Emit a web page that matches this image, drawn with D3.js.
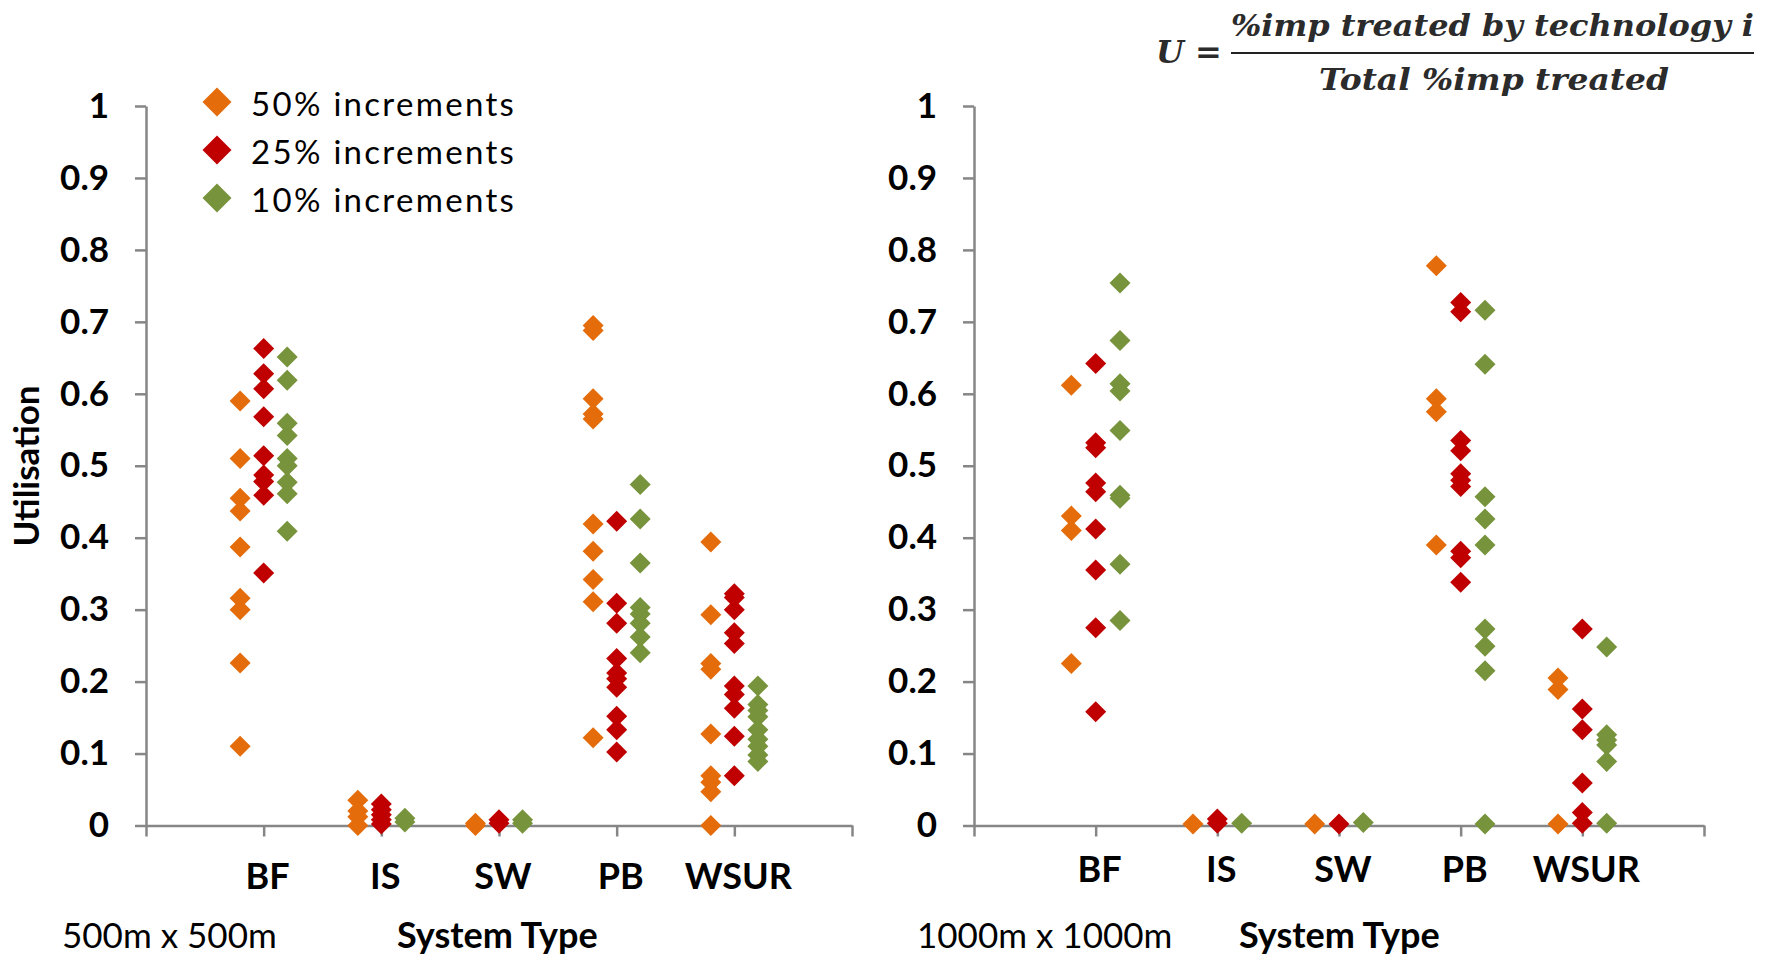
<!DOCTYPE html>
<html>
<head>
<meta charset="utf-8">
<script src="https://d3js.org/d3.v7.min.js"></script>
<style>
  body { margin: 0; background: #fff; }
  text { font-family: Lato, 'Open Sans', sans-serif; }
  text.formula { font-family: 'DejaVu Serif', 'Liberation Serif', serif; font-style: italic; font-weight: 700; fill: #2b2b2b; }
  .axis path, .axis line { stroke: #868686; stroke-width: 2.5; }
  .ytick { font-size: 35px; font-weight: 700; fill: #000; }
  .cat { font-size: 36px; font-weight: 700; fill: #000; }
</style>
</head>
<body>
<div id="chart"></div>
<script>
// categories and series
var categories = ["BF", "IS", "SW", "PB", "WSUR"];
var seriesNames = ["50% increments", "25% increments", "10% increments"];
var seriesColors = ["#E46C0A", "#C00000", "#77933C"];
var yTicks = [0, 0.1, 0.2, 0.3, 0.4, 0.5, 0.6, 0.7, 0.8, 0.9, 1];
var xTicks = [0, 1, 2, 3, 4, 5, 6];

// 500m x 500m grid, one array per category
var g500_50 = [
  [0.59, 0.51, 0.455, 0.437, 0.387, 0.316, 0.30, 0.226, 0.11],
  [0.035, 0.02, 0.012, 0.0],
  [0.003, 0.0],
  [0.695, 0.688, 0.593, 0.572, 0.565, 0.419, 0.381, 0.342, 0.311, 0.122],
  [0.394, 0.293, 0.225, 0.217, 0.127, 0.069, 0.06, 0.047, 0.0]
];
var g500_25 = [
  [0.663, 0.628, 0.607, 0.568, 0.514, 0.487, 0.478, 0.459, 0.351],
  [0.03, 0.022, 0.015, 0.008, 0.002],
  [0.008, 0.003],
  [0.423, 0.309, 0.281, 0.232, 0.212, 0.204, 0.192, 0.152, 0.133, 0.102],
  [0.322, 0.317, 0.3, 0.268, 0.253, 0.194, 0.182, 0.163, 0.124, 0.069]
];
var g500_10 = [
  [0.651, 0.619, 0.559, 0.542, 0.51, 0.5, 0.477, 0.461, 0.409],
  [0.01, 0.005],
  [0.008, 0.003],
  [0.474, 0.426, 0.365, 0.303, 0.294, 0.281, 0.262, 0.240],
  [0.194, 0.168, 0.16, 0.151, 0.133, 0.12, 0.11, 0.098, 0.089]
];

// 1000m x 1000m grid
var g1000_50 = [
  [0.612, 0.43, 0.41, 0.225],
  [0.002],
  [0.002],
  [0.778, 0.593, 0.575, 0.39],
  [0.205, 0.189, 0.002]
];
var g1000_25 = [
  [0.642, 0.532, 0.525, 0.476, 0.464, 0.412, 0.355, 0.275, 0.158],
  [0.009, 0.003],
  [0.002],
  [0.727, 0.714, 0.535, 0.521, 0.489, 0.48, 0.471, 0.381, 0.372, 0.338],
  [0.273, 0.162, 0.133, 0.059, 0.018, 0.003]
];
var g1000_10 = [
  [0.754, 0.674, 0.614, 0.604, 0.549, 0.459, 0.455, 0.363, 0.285],
  [0.003],
  [0.004],
  [0.716, 0.641, 0.457, 0.426, 0.39, 0.273, 0.249, 0.215, 0.002],
  [0.248, 0.126, 0.119, 0.112, 0.089, 0.003]
];

var width = 1771, height = 956;
var svg = d3.select("#chart").append("svg")
  .attr("width", width)
  .attr("height", height);

var y = d3.scaleLinear().domain([0, 1]).range([825.5, 106]);
var offsets = [-0.2, 0, 0.2];

function diamond(r) {
  return "M0," + (-r) + "L" + r + ",0L0," + r + "L" + (-r) + ",0Z";
}

function drawPanel(left, right, series, catY, sizeLabel, sizeX, titleX) {
  var x = d3.scaleLinear().domain([0, 6]).range([left, right]);
  var g = svg.append("g");

  var ya = g.append("g")
    .attr("class", "axis")
    .attr("transform", "translate(" + left + ",0)")
    .call(d3.axisLeft(y).tickValues(yTicks).tickSize(11).tickSizeOuter(0).tickPadding(26)
      .tickFormat(function (d) { return String(+d.toFixed(1)); }));
  ya.selectAll("text").attr("class", "ytick");

  g.append("g")
    .attr("class", "axis")
    .attr("transform", "translate(0," + y(0) + ")")
    .call(d3.axisBottom(x).tickValues(xTicks).tickSize(11).tickSizeOuter(0).tickFormat(""));

  series.forEach(function (s, si) {
    var pts = [];
    s.forEach(function (vals, ci) {
      vals.forEach(function (v) { pts.push({ cat: ci + 1, v: v }); });
    });
    g.selectAll(".s" + si)
      .data(pts)
      .enter().append("path")
      .attr("d", diamond(10.5))
      .attr("transform", function (d) {
        return "translate(" + x(d.cat + offsets[si]) + "," + y(d.v) + ")";
      })
      .style("fill", seriesColors[si]);
  });

  g.selectAll(".cat")
    .data(categories)
    .enter().append("text")
    .attr("class", "cat")
    .attr("x", function (d, i) { return x(i + 1) + 4; })
    .attr("y", catY)
    .attr("text-anchor", "middle")
    .text(function (d) { return d; });

  g.append("text")
    .attr("x", sizeX)
    .attr("y", 948)
    .style("font-size", "35px")
    .text(sizeLabel);

  g.append("text")
    .attr("x", titleX)
    .attr("y", 948)
    .style("font-size", "36px")
    .style("font-weight", "700")
    .text("System Type");
}

drawPanel(146, 852, [g500_50, g500_25, g500_10], 889, "500m x 500m", 62, 397);
drawPanel(974, 1704, [g1000_50, g1000_25, g1000_10], 882, "1000m x 1000m", 917, 1239);

// y axis title
svg.append("text")
  .attr("transform", "translate(39,466) rotate(-90)")
  .attr("text-anchor", "middle")
  .style("font-size", "35px")
  .style("font-weight", "700")
  .text("Utilisation");

// legend
var legend = svg.selectAll(".legend")
  .data(seriesNames)
  .enter().append("g")
  .attr("transform", function (d, i) { return "translate(217," + (102 + i * 48) + ")"; });

legend.append("path")
  .attr("d", diamond(14.5))
  .style("fill", function (d, i) { return seriesColors[i]; });

legend.append("text")
  .attr("x", 34)
  .attr("y", 14)
  .style("font-size", "33px")
  .style("letter-spacing", "2.3px")
  .text(function (d) { return d; });

// formula
var f = svg.append("g");
f.append("text").attr("class", "formula").attr("x", 1156).attr("y", 63).style("font-size", "32px").text("U =");
f.append("text").attr("class", "formula").attr("x", 1231).attr("y", 36).style("font-size", "29px")
  .attr("textLength", 523).attr("lengthAdjust", "spacingAndGlyphs")
  .text("%imp treated by technology i");
f.append("line").attr("x1", 1231).attr("x2", 1754).attr("y1", 53).attr("y2", 53)
  .style("stroke", "#222").style("stroke-width", 2);
f.append("text").attr("class", "formula").attr("x", 1319).attr("y", 90).style("font-size", "29px")
  .attr("textLength", 350).attr("lengthAdjust", "spacingAndGlyphs")
  .text("Total %imp treated");
</script>
</body>
</html>
